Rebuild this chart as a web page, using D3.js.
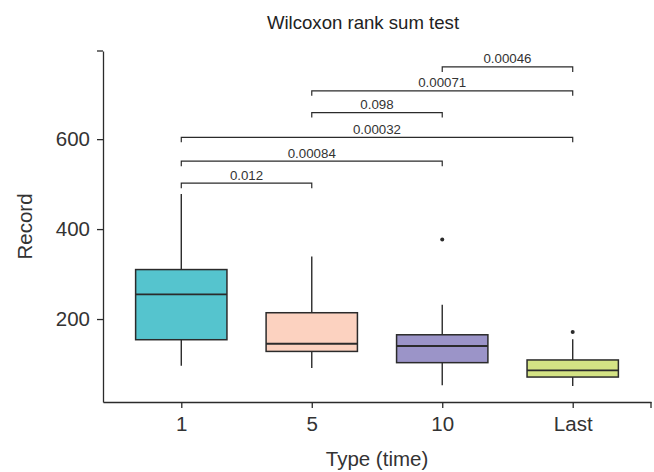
<!DOCTYPE html>
<html>
<head>
  <meta charset="UTF-8">
  <title>Wilcoxon rank sum test</title>
  <script src="https://d3js.org/d3.v7.min.js"></script>
  <style>
    body {
      margin: 0;
      background: #fff;
      font-family: Arial, "Liberation Sans", sans-serif;
    }
    svg {
      display: block;
    }
    .tick text {
      font-size: 20.5px;
      fill: #333;
    }
    .pval {
      font-size: 13.3px;
      fill: #333;
      text-anchor: middle;
    }
  </style>
</head>
<body>

  <svg width="654" height="472"></svg>

  <script>
    // groups and box statistics
    const groups = ['1', '5', '10', 'Last'];
    const q1 = [154, 128, 103, 71];
    const median = [255, 145, 140, 86];
    const q3 = [310, 214, 165, 109];
    const whiskerLow = [96, 91, 53, 51];
    const whiskerHigh = [478, 339, 232, 155];
    const outliers = [[], [], [377], [171]];
    const fills = ['#55c4ce', '#fcd2c0', '#9b94c8', '#d4e384'];

    // pairwise comparisons
    const pairFrom = ['1', '1', '1', '5', '5', '10'];
    const pairTo = ['5', '10', 'Last', '10', 'Last', 'Last'];
    const pValues = ['0.012', '0.00084', '0.00032', '0.098', '0.00071', '0.00046'];
    const bracketY = [502, 551, 604, 659, 707.5, 760.5];

    const yTicks = [200, 400, 600];

    const svg = d3.select("svg");
    const margin = { top: 51, right: 3, bottom: 70, left: 103 };
    const w = +svg.attr("width") - margin.left - margin.right;
    const h = +svg.attr("height") - margin.top - margin.bottom;

    const g = svg.append("g").attr("transform", `translate(${margin.left},${margin.top})`);

    const x = d3.scalePoint()
      .domain(groups)
      .range([0, w])
      .padding(0.6);

    // ggplot style 5% expansion
    const lo = d3.min(whiskerLow);
    const hi = d3.max(bracketY);
    const pad = (hi - lo) * 0.05;
    const y = d3.scaleLinear()
      .domain([lo - pad, hi + pad])
      .range([h, 0]);

    const boxW = x.step() * 0.7;
    const ink = "#2b2b2b";

    // axes
    const xAxis = g.append("g")
      .attr("transform", `translate(0,${h})`)
      .call(d3.axisBottom(x).tickSizeInner(6).tickSizeOuter(0).tickPadding(8));
    xAxis.select(".domain").attr("stroke", ink).attr("stroke-width", 1.3);
    xAxis.selectAll(".tick line").attr("stroke", ink).attr("stroke-width", 1.3);
    xAxis.append("line")
      .attr("x1", w).attr("x2", w).attr("y1", 0).attr("y2", 6)
      .attr("stroke", ink).attr("stroke-width", 1.3);

    const yAxis = g.append("g")
      .call(d3.axisLeft(y).tickValues(yTicks).tickSizeInner(6).tickSizeOuter(0).tickPadding(7));
    yAxis.select(".domain").attr("stroke", ink).attr("stroke-width", 1.3);
    yAxis.selectAll(".tick line").attr("stroke", ink).attr("stroke-width", 1.3);
    yAxis.append("line")
      .attr("x1", -6).attr("x2", 0).attr("y1", 0).attr("y2", 0)
      .attr("stroke", ink).attr("stroke-width", 1.3);

    // whiskers
    g.selectAll(".whisker")
      .data(groups)
      .enter()
      .append("line")
      .attr("x1", d => x(d))
      .attr("x2", d => x(d))
      .attr("y1", (d, i) => y(whiskerLow[i]))
      .attr("y2", (d, i) => y(whiskerHigh[i]))
      .attr("stroke", ink)
      .attr("stroke-width", 1.4);

    // boxes
    g.selectAll(".box")
      .data(groups)
      .enter()
      .append("rect")
      .attr("x", d => x(d) - boxW / 2)
      .attr("y", (d, i) => y(q3[i]))
      .attr("width", boxW)
      .attr("height", (d, i) => y(q1[i]) - y(q3[i]))
      .attr("fill", (d, i) => fills[i])
      .attr("stroke", ink)
      .attr("stroke-width", 1.5);

    // medians
    g.selectAll(".median")
      .data(groups)
      .enter()
      .append("line")
      .attr("x1", d => x(d) - boxW / 2)
      .attr("x2", d => x(d) + boxW / 2)
      .attr("y1", (d, i) => y(median[i]))
      .attr("y2", (d, i) => y(median[i]))
      .attr("stroke", ink)
      .attr("stroke-width", 1.8);

    // outliers
    groups.forEach((grp, i) => {
      g.selectAll(null)
        .data(outliers[i])
        .enter()
        .append("circle")
        .attr("cx", x(grp))
        .attr("cy", d => y(d))
        .attr("r", 2)
        .attr("fill", ink);
    });

    // significance brackets
    const tip = 5;
    pValues.forEach((p, i) => {
      const x1 = x(pairFrom[i]);
      const x2 = x(pairTo[i]);
      const yy = y(bracketY[i]);
      g.append("path")
        .attr("d", `M${x1},${yy + tip}V${yy}H${x2}V${yy + tip}`)
        .attr("fill", "none")
        .attr("stroke", ink)
        .attr("stroke-width", 1.2);
      g.append("text")
        .attr("class", "pval")
        .attr("x", (x1 + x2) / 2)
        .attr("y", yy - 3.5)
        .text(p);
    });

    // titles
    svg.append("text")
      .attr("x", 363)
      .attr("y", 29)
      .attr("text-anchor", "middle")
      .attr("font-size", "18.6px")
      .attr("fill", "#222")
      .text("Wilcoxon rank sum test");

    svg.append("text")
      .attr("x", margin.left + w / 2)
      .attr("y", 466)
      .attr("text-anchor", "middle")
      .attr("font-size", "20.5px")
      .attr("fill", "#333")
      .text("Type (time)");

    svg.append("text")
      .attr("transform", `translate(32,${margin.top + h / 2}) rotate(-90)`)
      .attr("text-anchor", "middle")
      .attr("font-size", "20.5px")
      .attr("fill", "#333")
      .text("Record");
  </script>

</body>
</html>
